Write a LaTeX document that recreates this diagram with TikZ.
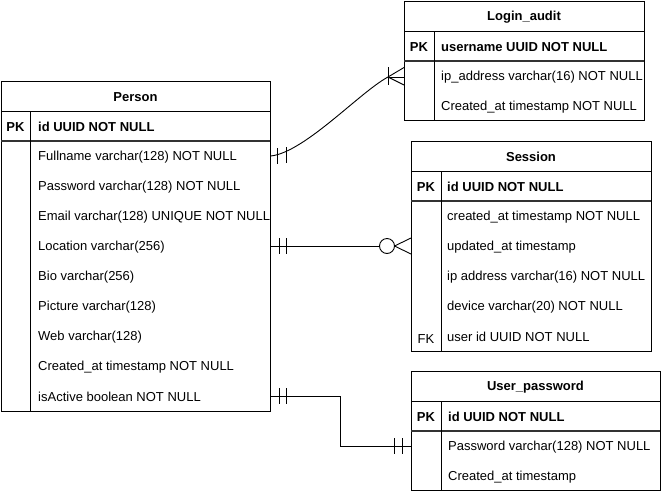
\documentclass[tikz,border=0pt]{standalone}
\usepackage{fontspec}
\setmainfont{Liberation Sans}
\usetikzlibrary{calc}
\begin{document}
\begin{tikzpicture}[x=1pt,y=-1pt,
  tbl/.style={draw, line width=0.9pt, rectangle, inner sep=0pt, anchor=north west},
  txt/.style={inner sep=0pt, yshift=-1pt},
  ttl/.style={txt, font=\fontsize{13}{15}\selectfont\bfseries},
  fld/.style={txt, font=\fontsize{13}{15}\selectfont, anchor=west},
  bfld/.style={txt, font=\fontsize{13}{15}\selectfont\bfseries, anchor=west},
  keyc/.style={txt, font=\fontsize{13}{15}\selectfont\bfseries},
  fkc/.style={txt, font=\fontsize{13}{15}\selectfont},
  sep/.style={line width=0.9pt},
  pksep/.style={line width=1.4pt, black!80},
  conn/.style={line width=0.9pt},
  ermark/.style={line width=0.9pt}]
\useasboundingbox (0,0) rectangle (661,491);

% ---------- Person ----------
\node[tbl, minimum width=269pt, minimum height=330pt] (person) at (1,81) {};
\draw[sep] (1,111) -- (270,111);
\draw[pksep] (1,141) -- (270,141);
\draw[sep] (30,111) -- (30,411);
\node[ttl] (person-t) at (135.5,96) {Person};
\node[keyc] (person-pk) at (15.5,126) {PK};
\node[bfld] (person-id) at (38,126) {id UUID NOT NULL};
\node[fld] (person-full) at (38,156) {Fullname varchar(128) NOT NULL};
\node[fld] (person-pw) at (38,186) {Password varchar(128) NOT NULL};
\node[fld] (person-mail) at (38,216) {Email varchar(128) UNIQUE NOT NULL};
\node[fld] (person-loc) at (38,246) {Location varchar(256)};
\node[fld] (person-bio) at (38,276) {Bio varchar(256)};
\node[fld] (person-pic) at (38,306) {Picture varchar(128)};
\node[fld] (person-web) at (38,336) {Web varchar(128)};
\node[fld] (person-cr) at (38,366) {Created\_at timestamp NOT NULL};
\node[fld] (person-act) at (38,396) {isActive boolean NOT NULL};

% ---------- Login_audit ----------
\node[tbl, minimum width=240pt, minimum height=119pt] (la) at (404,1) {};
\draw[sep] (404,31) -- (644,31);
\draw[pksep] (404,61) -- (644,61);
\draw[sep] (434,31) -- (434,120);
\node[ttl] (la-t) at (524,16) {Login\_audit};
\node[keyc] (la-pk) at (419,46) {PK};
\node[bfld] (la-user) at (441,46) {username UUID NOT NULL};
\node[fld] (la-ip) at (441,76) {ip\_address varchar(16) NOT NULL};
\node[fld] (la-cr) at (441,106) {Created\_at timestamp NOT NULL};

% ---------- Session ----------
\node[tbl, minimum width=240pt, minimum height=210pt] (ses) at (411,141) {};
\draw[sep] (411,171) -- (651,171);
\draw[pksep] (411,201) -- (651,201);
\draw[sep] (441,171) -- (441,351);
\node[ttl] (ses-t) at (531,156) {Session};
\node[keyc] (ses-pk) at (426,186) {PK};
\node[bfld] (ses-id) at (447,186) {id UUID NOT NULL};
\node[fld] (ses-cr) at (447,216) {created\_at timestamp NOT NULL};
\node[fld] (ses-upd) at (447,246) {updated\_at timestamp};
\node[fld] (ses-ip) at (447,276) {ip address varchar(16) NOT NULL};
\node[fld] (ses-dev) at (447,306) {device varchar(20) NOT NULL};
\node[fkc] (ses-fk) at (426,338) {FK};
\node[fld] (ses-uid) at (447,336) {user id UUID NOT NULL};

% ---------- User_password ----------
\node[tbl, minimum width=249pt, minimum height=119pt] (up) at (411,371) {};
\draw[sep] (411,401) -- (660,401);
\draw[pksep] (411,431) -- (660,431);
\draw[sep] (441,401) -- (441,490);
\node[ttl] (up-t) at (535.5,386) {User\_password};
\node[keyc] (up-pk) at (426,416) {PK};
\node[bfld] (up-id) at (448,416) {id UUID NOT NULL};
\node[fld] (up-pw) at (448,446) {Password varchar(128) NOT NULL};
\node[fld] (up-cr) at (448,476) {Created\_at timestamp};

% ---------- Connector 1: Person -> Login_audit (one to one-or-many) ----------
\coordinate (c1end) at (388,77);
\draw[conn] (person.east |- 0,156) .. controls (305,152) and (360,92) .. (c1end);
\draw[ermark] (c1end) -- (la.west |- 0,77);
\draw[ermark] (c1end) -- (404,67.5);
\draw[ermark] (c1end) -- (404,85);
\draw[ermark] (388.5,67) -- (388.5,84.5);
\draw[ermark] (277,148) -- (277,164);
\draw[ermark] (286,147) -- (286,163);

% ---------- Connector 2: Person -> Session (one to zero-or-many) ----------
\coordinate (c2circ) at (387,246);
\draw[conn] (person.east |- 0,246) -- ($(c2circ)+(-7.5,0)$);
\draw[ermark, fill=white] (c2circ) circle[radius=7.5];
\draw[ermark] (394.5,246) -- (ses.west |- 0,238);
\draw[ermark] (394.5,246) -- (ses.west |- 0,254);
\draw[ermark] (279,238) -- (279,254);
\draw[ermark] (286,238) -- (286,254);

% ---------- Connector 3: Person -> User_password (one to one) ----------
\draw[conn] (person.east |- 0,396) -- ++(70,0) |- (up.west |- 0,446);
\draw[ermark] (279,388) -- (279,404);
\draw[ermark] (286,388) -- (286,404);
\draw[ermark] (394,438) -- (394,454);
\draw[ermark] (402,438) -- (402,454);
\end{tikzpicture}
\end{document}
